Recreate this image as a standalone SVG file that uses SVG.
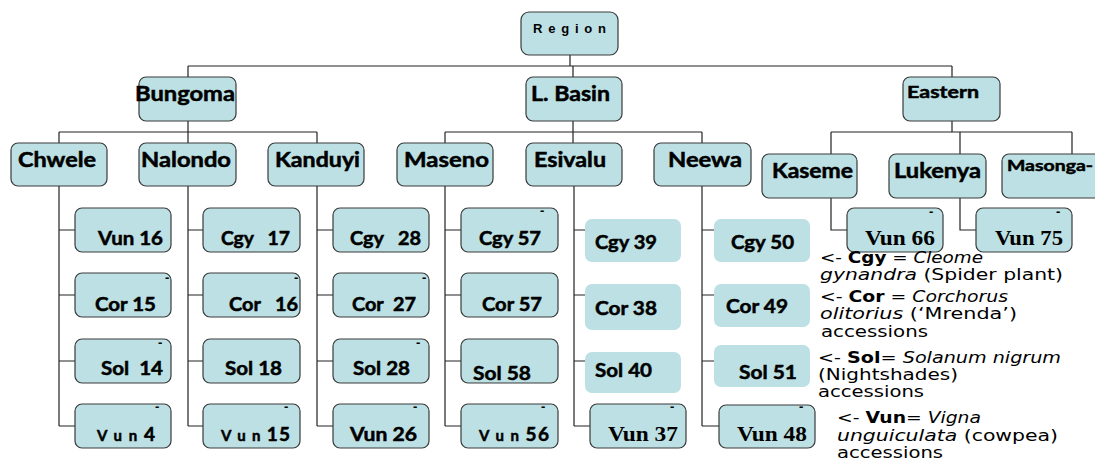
<svg xmlns="http://www.w3.org/2000/svg" width="1095" height="461" viewBox="0 0 1095 461">
<style>
.b{fill:#BCE0E3;stroke:#3a3a3a;stroke-width:1.2}
.nb{fill:#BCE0E3;stroke:none}
.c{fill:none;stroke:#222;stroke-width:1.2}
.t{font-family:Lato,"Open Sans","DejaVu Sans",sans-serif;font-weight:bold;fill:#000;stroke:#000;stroke-width:0.5}
.s{font-family:"Liberation Serif","DejaVu Serif",serif;font-weight:bold;fill:#000}
.d{font-family:"Liberation Sans",sans-serif;font-weight:bold;font-size:13px;fill:#000}
.l{font-family:"DejaVu Sans",Verdana,sans-serif;font-size:16px;fill:#000}
</style>
<rect width="1095" height="461" fill="#fff"/>
<g id="connectors" class="c">
<path d="M570 55V66M188 66H952M188 66V77M573 66V77M952 66V77"/>
<path d="M188 121V143M59 132H317M59 132V143M317 132V143"/>
<path d="M573 121V143M445 132H702M445 132V143M702 132V143"/>
<path d="M952 121V132M831 132H1072M831 132V154M960 132V154M1072 132V154"/>
<path d="M59 186V426M59 230H75M59 295H75M59 361H75M59 426H75"/>
<path d="M188 186V426M188 230H203M188 295H203M188 361H203M188 426H203"/>
<path d="M317 186V426M317 230H333M317 295H333M317 361H333M317 426H333"/>
<path d="M445 186V426M445 230H461M445 295H461M445 361H461M445 426H461"/>
<path d="M574 186V426M574 230H585M574 295H585M574 361H585M574 426H590"/>
<path d="M702 186V426M702 230H714M702 295H714M702 361H714M702 426H719"/>
<path d="M831 198V230H847M960 198V230H976"/>
</g>
<g id="region"><rect class="b" x="521" y="12" width="97" height="43" rx="8"/><text x="533" y="33" font-family="Liberation Sans,sans-serif" font-weight="bold" font-size="13" textLength="73" lengthAdjust="spacing">R e g i o n</text></g>
<g id="bungoma"><rect class="b" x="139" y="77" width="97" height="44" rx="7"/><text class="t" x="135" y="101" font-size="21" textLength="100" lengthAdjust="spacingAndGlyphs">Bungoma</text></g>
<g id="lbasin"><rect class="b" x="526" y="77" width="96" height="44" rx="7"/><text class="t" x="531" y="101" font-size="21" textLength="79" lengthAdjust="spacingAndGlyphs">L. Basin</text></g>
<g id="eastern"><rect class="b" x="903" y="77" width="97" height="44" rx="7"/><text class="t" x="907" y="98" font-size="17" textLength="72" lengthAdjust="spacingAndGlyphs">Eastern</text></g>
<g id="chwele"><rect class="b" x="11" y="143" width="96" height="43" rx="7"/><text class="t" x="18" y="167" font-size="20" textLength="78" lengthAdjust="spacingAndGlyphs">Chwele</text></g>
<g id="nalondo"><rect class="b" x="139" y="143" width="97" height="43" rx="7"/><text class="t" x="141" y="167" font-size="20" textLength="90" lengthAdjust="spacingAndGlyphs">Nalondo</text></g>
<g id="kanduyi"><rect class="b" x="268" y="143" width="96" height="43" rx="7"/><text class="t" x="275" y="167" font-size="20" textLength="85" lengthAdjust="spacingAndGlyphs">Kanduyi</text></g>
<g id="maseno"><rect class="b" x="397" y="143" width="96" height="43" rx="7"/><text class="t" x="404" y="167" font-size="20" textLength="85" lengthAdjust="spacingAndGlyphs">Maseno</text></g>
<g id="esivalu"><rect class="b" x="526" y="143" width="96" height="43" rx="7"/><text class="t" x="534" y="167" font-size="20" textLength="72" lengthAdjust="spacingAndGlyphs">Esivalu</text></g>
<g id="neewa"><rect class="b" x="654" y="143" width="97" height="43" rx="7"/><text class="t" x="668" y="167" font-size="20" textLength="74" lengthAdjust="spacingAndGlyphs">Neewa</text></g>
<g id="kaseme"><rect class="b" x="762" y="154" width="95" height="44" rx="7"/><text class="t" x="772" y="178" font-size="20" textLength="81" lengthAdjust="spacingAndGlyphs">Kaseme</text></g>
<g id="lukenya"><rect class="b" x="889" y="154" width="97" height="44" rx="7"/><text class="t" x="894" y="178" font-size="20" textLength="87" lengthAdjust="spacingAndGlyphs">Lukenya</text></g>
<g id="masonga"><rect class="b" x="1002" y="154" width="100" height="44" rx="7"/><text class="t" x="1007" y="171" font-size="15" textLength="86" lengthAdjust="spacingAndGlyphs">Masonga-</text></g>

<g id="vun16"><rect class="b" x="75" y="208" width="96" height="44" rx="7"/><text class="t" x="98" y="245" font-size="19" textLength="65" lengthAdjust="spacingAndGlyphs">Vun 16</text></g>
<g id="cor15"><rect class="b" x="75" y="273" width="96" height="44" rx="7"/><text class="d" x="165" y="282">-</text><text class="t" x="95" y="311" font-size="19" textLength="61" lengthAdjust="spacingAndGlyphs">Cor 15</text></g>
<g id="sol14"><rect class="b" x="75" y="339" width="96" height="44" rx="7"/><text class="d" x="158" y="347">-</text><text class="t" x="101" y="375" font-size="19" textLength="62" lengthAdjust="spacingAndGlyphs" xml:space="preserve">Sol  14</text></g>
<g id="vun4"><rect class="b" x="75" y="404" width="96" height="44" rx="7"/><text class="d" x="155" y="411">-</text><text class="t" x="97" y="441" font-size="19" textLength="58" lengthAdjust="spacing"><tspan font-size="15">V u n </tspan>4</text></g>

<g id="cgy17"><rect class="b" x="203" y="208" width="97" height="44" rx="7"/><text class="t" x="221" y="245" font-size="19" textLength="69" lengthAdjust="spacingAndGlyphs" xml:space="preserve">Cgy   17</text></g>
<g id="cor16"><rect class="b" x="203" y="273" width="97" height="44" rx="7"/><text class="d" x="294" y="282">-</text><text class="t" x="229" y="311" font-size="19" textLength="69" lengthAdjust="spacingAndGlyphs" xml:space="preserve">Cor   16</text></g>
<g id="sol18"><rect class="b" x="203" y="339" width="97" height="44" rx="7"/><text class="t" x="225" y="375" font-size="19" textLength="57" lengthAdjust="spacingAndGlyphs">Sol 18</text></g>
<g id="vun15"><rect class="b" x="203" y="404" width="97" height="44" rx="7"/><text class="d" x="284" y="411">-</text><text class="t" x="221" y="441" font-size="19" textLength="69" lengthAdjust="spacing"><tspan font-size="15">V u n </tspan>15</text></g>

<g id="cgy28"><rect class="b" x="333" y="208" width="96" height="44" rx="7"/><text class="t" x="350" y="245" font-size="19" textLength="71" lengthAdjust="spacingAndGlyphs" xml:space="preserve">Cgy   28</text></g>
<g id="cor27"><rect class="b" x="333" y="273" width="96" height="44" rx="7"/><text class="d" x="422" y="282">-</text><text class="t" x="352" y="311" font-size="19" textLength="64" lengthAdjust="spacingAndGlyphs" xml:space="preserve">Cor  27</text></g>
<g id="sol28"><rect class="b" x="333" y="339" width="96" height="44" rx="7"/><text class="d" x="416" y="347">-</text><text class="t" x="353" y="375" font-size="19" textLength="57" lengthAdjust="spacingAndGlyphs">Sol 28</text></g>
<g id="vun26"><rect class="b" x="333" y="404" width="96" height="44" rx="7"/><text class="d" x="413" y="411">-</text><text class="t" x="350" y="441" font-size="19" textLength="67" lengthAdjust="spacingAndGlyphs">Vun 26</text></g>

<g id="cgy57"><rect class="b" x="461" y="208" width="97" height="44" rx="7"/><text class="d" x="540" y="215">-</text><text class="t" x="479" y="245" font-size="19" textLength="62" lengthAdjust="spacingAndGlyphs">Cgy 57</text></g>
<g id="cor57"><rect class="b" x="461" y="273" width="97" height="44" rx="7"/><text class="t" x="482" y="311" font-size="19" textLength="60" lengthAdjust="spacingAndGlyphs">Cor 57</text></g>
<g id="sol58"><rect class="b" x="461" y="339" width="97" height="44" rx="7"/><text class="t" x="473" y="380" font-size="19" textLength="58" lengthAdjust="spacingAndGlyphs">Sol 58</text></g>
<g id="vun56"><rect class="b" x="461" y="404" width="97" height="44" rx="7"/><text class="d" x="541" y="411">-</text><text class="t" x="479" y="441" font-size="19" textLength="70" lengthAdjust="spacing"><tspan font-size="15">V u n </tspan>56</text></g>

<g id="cgy39"><rect class="nb" x="585" y="219" width="96" height="43" rx="7"/><text class="t" x="595" y="249" font-size="19" textLength="62" lengthAdjust="spacingAndGlyphs">Cgy 39</text></g>
<g id="cor38"><rect class="nb" x="585" y="284" width="96" height="46" rx="7"/><text class="t" x="595" y="315" font-size="19" textLength="62" lengthAdjust="spacingAndGlyphs">Cor 38</text></g>
<g id="sol40"><rect class="nb" x="585" y="352" width="96" height="41" rx="7"/><text class="t" x="595" y="377" font-size="19" textLength="57" lengthAdjust="spacingAndGlyphs">Sol 40</text></g>
<g id="vun37"><rect class="b" x="590" y="404" width="96" height="44" rx="7"/><text class="d" x="670" y="411">-</text><text class="s" x="608" y="441" font-size="21" textLength="70" lengthAdjust="spacingAndGlyphs">Vun 37</text></g>

<g id="cgy50"><rect class="nb" x="714" y="219" width="96" height="43" rx="7"/><text class="t" x="731" y="249" font-size="19" textLength="63" lengthAdjust="spacingAndGlyphs">Cgy 50</text></g>
<g id="cor49"><rect class="nb" x="714" y="284" width="96" height="43" rx="7"/><text class="t" x="726" y="313" font-size="19" textLength="62" lengthAdjust="spacingAndGlyphs">Cor 49</text></g>
<g id="sol51"><rect class="nb" x="714" y="345" width="96" height="42" rx="7"/><text class="t" x="739" y="379" font-size="19" textLength="58" lengthAdjust="spacingAndGlyphs">Sol 51</text></g>
<g id="vun48"><rect class="b" x="719" y="405" width="96" height="43" rx="7"/><text class="d" x="799" y="411">-</text><text class="s" x="737" y="441" font-size="21" textLength="70" lengthAdjust="spacingAndGlyphs">Vun 48</text></g>

<g id="vun66"><rect class="b" x="847" y="208" width="96" height="44" rx="7"/><text class="d" x="929" y="216">-</text><text class="s" x="865" y="245" font-size="21" textLength="70" lengthAdjust="spacingAndGlyphs">Vun 66</text></g>
<g id="vun75"><rect class="b" x="976" y="208" width="96" height="44" rx="7"/><text class="d" x="1056" y="216">-</text><text class="s" x="995" y="245" font-size="21" textLength="68" lengthAdjust="spacingAndGlyphs">Vun 75</text></g>

<g id="legend">
<text class="l" x="820" y="263" textLength="163" lengthAdjust="spacingAndGlyphs">&lt;- <tspan font-weight="bold">Cgy</tspan> = <tspan font-style="italic">Cleome</tspan></text>
<text class="l" x="820" y="280" textLength="243" lengthAdjust="spacingAndGlyphs"><tspan font-style="italic">gynandra</tspan> (Spider plant)</text>
<text class="l" x="820" y="302" textLength="188" lengthAdjust="spacingAndGlyphs">&lt;- <tspan font-weight="bold">Cor</tspan> = <tspan font-style="italic">Corchorus</tspan></text>
<text class="l" x="820" y="319" textLength="197" lengthAdjust="spacingAndGlyphs"><tspan font-style="italic">olitorius</tspan> (‘Mrenda’)</text>
<text class="l" x="821" y="337" textLength="107" lengthAdjust="spacingAndGlyphs">accessions</text>
<text class="l" x="818" y="363" textLength="243" lengthAdjust="spacingAndGlyphs">&lt;- <tspan font-weight="bold">Sol</tspan>= <tspan font-style="italic">Solanum nigrum</tspan></text>
<text class="l" x="818" y="380" textLength="140" lengthAdjust="spacingAndGlyphs">(Nightshades)</text>
<text class="l" x="818" y="397" textLength="106" lengthAdjust="spacingAndGlyphs">accessions</text>
<text class="l" x="837" y="423" textLength="144" lengthAdjust="spacingAndGlyphs">&lt;- <tspan font-weight="bold">Vun</tspan>= <tspan font-style="italic">Vigna</tspan></text>
<text class="l" x="837" y="441" textLength="221" lengthAdjust="spacingAndGlyphs"><tspan font-style="italic">unguiculata</tspan> (cowpea)</text>
<text class="l" x="837" y="458" textLength="106" lengthAdjust="spacingAndGlyphs">accessions</text>
</g>
</svg>
